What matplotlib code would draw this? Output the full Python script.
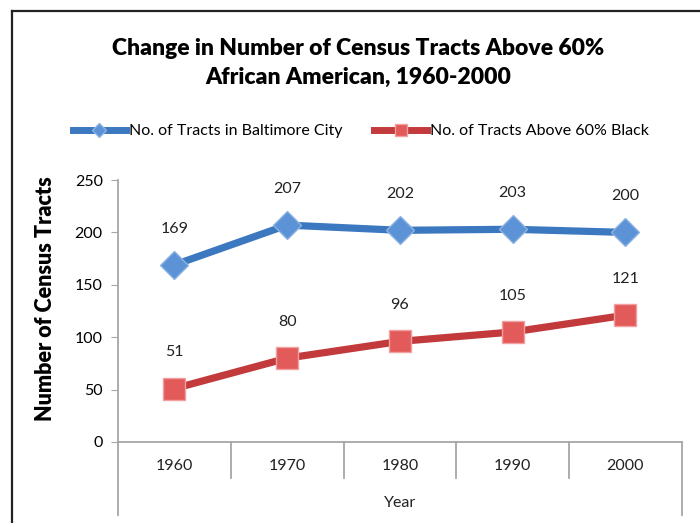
import matplotlib.pyplot as plt
import matplotlib.transforms as mtransforms
from matplotlib.lines import Line2D

years = ['1960', '1970', '1980', '1990', '2000']
tracts_city = [169, 207, 202, 203, 200]
tracts_black = [51, 80, 96, 105, 121]

blue = '#3b78c0'
red = '#c23a3c'
grid_col = '#a6a6a6'
font = 'Lato'

plt.rcParams['font.family'] = [font, 'DejaVu Sans']

fig = plt.figure(figsize=(7, 5.23), dpi=100)
ax = fig.add_axes([0.1686, 0.1549, 0.8054, 0.5009])

x = list(range(len(years)))
ax.plot(x, tracts_city, color=blue, lw=5.2, marker='D', ms=14,
        mfc='#5b93d6', mec='#8db3e2', mew=1, zorder=3)
ax.plot(x, tracts_black, color=red, lw=5.2, marker='s', ms=15.5,
        mfc='#e35a5a', mec='#f0a0a0', mew=1, zorder=3)

for xi, v in zip(x, tracts_city):
    ax.annotate(str(v), (xi, v), xytext=(0, 26), textcoords='offset points',
                ha='center', va='center', fontsize=11.5, color='#222222')
for xi, v in zip(x, tracts_black):
    ax.annotate(str(v), (xi, v), xytext=(0, 26), textcoords='offset points',
                ha='center', va='center', fontsize=11.5, color='#222222')

ax.set_xlim(-0.5, len(years) - 0.5)
ax.set_ylim(0, 250)
ax.set_yticks([0, 50, 100, 150, 200, 250])
ax.tick_params(axis='y', length=5, color=grid_col, labelsize=11.5, pad=6)
ax.set_xticks([])

for s in ['top', 'right']:
    ax.spines[s].set_visible(False)
for s in ['left', 'bottom']:
    ax.spines[s].set_color(grid_col)
    ax.spines[s].set_linewidth(1.3)

# category axis: separators and two-level labels
trans = mtransforms.blended_transform_factory(ax.transData, ax.transAxes)
for i in range(len(years) + 1):
    b = -0.5 + i
    y_end = -0.279 if i in (0, len(years)) else -0.137
    ax.add_line(Line2D([b, b], [0, y_end], transform=trans, color=grid_col,
                       lw=1.3, clip_on=False))
for xi, yr in zip(x, years):
    ax.text(xi, -0.093, yr, transform=trans, ha='center', va='center',
            fontsize=11.5, color='#222222')
ax.text((len(years) - 1) / 2, -0.232, 'Year', transform=trans, ha='center',
        va='center', fontsize=11.5, color='#222222')

ax.set_ylabel('Number of Census Tracts', fontsize=15.5, fontweight='heavy',
              va='center')
ax.yaxis.set_label_coords(-0.129, 0.546)

fig.text(0.512, 0.880, 'Change in Number of Census Tracts Above 60%\nAfrican American, 1960-2000',
         ha='center', va='center', fontsize=16.5, fontweight='heavy',
         linespacing=1.45)

legend_handles = [
    Line2D([], [], color=blue, lw=5, marker='D', ms=7, mfc='#5b93d6', mec='#8db3e2'),
    Line2D([], [], color=red, lw=5, marker='s', ms=8, mfc='#e35a5a', mec='#f0a0a0'),
]
fig.legend(legend_handles, ['No. of Tracts in Baltimore City', 'No. of Tracts Above 60% Black'],
           loc='center', bbox_to_anchor=(0.516, 0.749), ncol=2, frameon=False,
           fontsize=11.5, handlelength=3.3, handletextpad=0.2, columnspacing=2.0)

# frame lines of the original picture
fig.add_artist(Line2D([0.0171, 0.0171], [0, 0.979], color='#222222', lw=1.6))
fig.add_artist(Line2D([0.0171, 1.0], [0.979, 0.979], color='#222222', lw=1.6))

fig.savefig('out.png', dpi=100)
